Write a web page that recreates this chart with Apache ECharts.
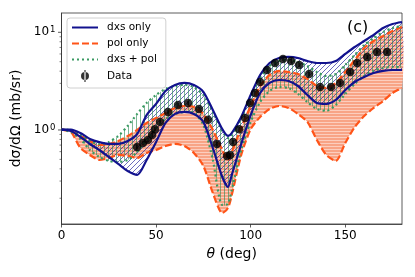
<!DOCTYPE html>
<html><head><meta charset="utf-8">
<script src="https://cdn.jsdelivr.net/npm/echarts@6/dist/echarts.min.js"></script>
<style>html,body{margin:0;padding:0;background:#fff}#c{width:415px;height:277px}</style>
</head><body><div id="c"></div>
<script>
const theta = [0,5,10,15,20,25,30,35,40,45,50,55,60,65,70,75,80,85,88,90,95,100,105,110,115,120,125,130,135,140,145,150,155,160,165,170,175,180];
const dxsHi = [1.01,1.01,0.93,0.81,0.75,0.72,0.72,0.77,0.91,1.42,1.85,2.51,2.89,3.03,2.89,2.46,1.60,1.02,0.87,0.93,1.36,2.28,3.66,4.85,5.46,5.59,5.46,5.08,4.85,4.85,5.08,6.00,7.07,8.15,9.39,11.07,12.16,12.75];
const dxsLo = [1.01,0.977,0.848,0.719,0.624,0.529,0.449,0.380,0.346,0.493,0.754,1.18,1.46,1.53,1.46,1.21,0.654,0.330,0.261,0.346,0.719,1.42,2.39,3.03,3.25,3.17,2.82,2.28,1.89,1.85,2.03,2.57,3.10,3.49,3.83,4.02,4.11,4.11];
const polHi = [1.01,0.977,0.868,0.772,0.702,0.719,0.772,0.868,1.0,1.18,1.33,1.49,1.68,1.76,1.72,1.46,1.0,0.624,0.493,0.596,1.05,1.76,2.82,3.66,4.02,3.92,3.74,3.33,2.82,2.69,3.03,3.92,5.21,6.91,8.15,9.17,10.3,11.33];
const polLo = [1.01,0.954,0.654,0.555,0.493,0.517,0.555,0.542,0.517,0.581,0.624,0.686,0.719,0.686,0.581,0.428,0.227,0.141,0.159,0.216,0.555,1.02,1.36,1.64,1.76,1.68,1.46,1.21,0.790,0.555,0.482,0.736,1.07,1.39,1.68,1.98,2.39,2.69];
const bothHi = [1.01,1.0,0.889,0.772,0.719,0.754,0.868,1.10,1.46,1.89,2.28,2.63,2.82,2.89,2.75,2.28,1.53,0.977,0.828,0.868,1.33,2.18,3.41,4.52,5.08,5.21,4.97,4.52,3.92,3.57,3.74,4.63,5.86,7.41,8.74,10.07,11.07,11.6];
const bothLo = [1.01,0.954,0.809,0.624,0.529,0.482,0.470,0.493,0.596,0.790,1.05,1.30,1.46,1.53,1.49,1.13,0.493,0.171,0.175,0.243,0.624,1.21,1.93,2.51,2.75,2.69,2.34,1.93,1.64,1.57,1.80,2.34,2.96,3.57,4.02,4.31,4.41,4.41];
const dataTheta = [39.9,43.1,45.7,47.9,49.4,52.1,56.3,61.6,66.9,72.7,77.5,82.2,87.5,89.1,90.7,93.9,97.0,99.7,102.3,105.0,108.7,112.9,117.1,121.4,125.6,130.9,136.7,142.5,147.3,152.6,156.3,161.6,166.8,172.1];
const dataVal = [0.670,0.736,0.790,0.889,1.02,1.21,1.53,1.80,1.89,1.64,1.27,0.719,0.542,0.555,0.754,1.02,1.33,1.89,2.39,3.10,4.11,4.85,5.33,5.08,4.63,3.74,2.75,2.75,3.03,3.92,4.85,5.59,6.29,6.29];
const dataErr = [0.04,0.04,0.04,0.05,0.05,0.06,0.08,0.09,0.09,0.08,0.06,0.04,0.03,0.03,0.04,0.05,0.07,0.09,0.12,0.15,0.2,0.24,0.26,0.25,0.23,0.19,0.14,0.14,0.15,0.2,0.24,0.28,0.31,0.31];
const xTicks = [0,50,100,150];
const yMajor = [1,10];
const yMinor = [0.2,0.3,0.4,0.5,0.6,0.7,0.8,0.9,2,3,4,5,6,7,8,9];

const FONT = 'DejaVu Sans';
const C_DXS = '#12128e', C_POL = '#ff5418', C_BOTH = '#3a9a62';

function pattern(w, h, draw) {
  const c = document.createElement('canvas'); c.width = w; c.height = h;
  draw(c.getContext('2d'), w, h);
  return { image: c, repeat: 'repeat' };
}
const polFill = pattern(1, 3, (g) => { g.fillStyle = 'rgb(248,164,134)'; g.fillRect(0,0,1,3); g.fillStyle = 'rgb(252,206,190)'; g.fillRect(0,2,1,1); });
const dxsFill = pattern(5, 5, (g) => { g.strokeStyle = 'rgba(20,20,150,0.7)'; g.lineWidth = 0.9; g.beginPath(); g.moveTo(-1,6); g.lineTo(6,-1); g.moveTo(-1,1); g.lineTo(1,-1); g.moveTo(4,6); g.lineTo(6,4); g.stroke(); });
const bothFill = pattern(4, 1, (g) => { g.fillStyle = 'rgba(46,139,87,0.62)'; g.fillRect(0,0,1,1); });

const S = 0.25;
const pairs = (arr) => theta.map((t, i) => [t, arr[i]]);
function band(id, lo, hi, fill) {
  return { type: 'custom', name: '_' + id, silent: true, data: [[0]],
    renderItem: (p, api) => {
      const pts = [];
      for (let i = 0; i < theta.length; i++) pts.push(api.coord([theta[i], hi[i]]));
      for (let i = theta.length - 1; i >= 0; i--) pts.push(api.coord([theta[i], lo[i]]));
      return { type: 'polygon', shape: { points: pts, smooth: S }, style: { fill: fill, stroke: null } };
    } };
}
function curve(name, arr, color, type) {
  return { type: 'line', name: name, data: pairs(arr), symbol: 'none', showSymbol: false, smooth: S,
    lineStyle: { color: color, width: 2.2, type: type }, itemStyle: { color: color } };
}
const lineItem = (n) => ({ name: n, itemStyle: { opacity: 0 } });

const chart = echarts.init(document.getElementById('c'), null, { renderer: 'canvas' });
chart.setOption({
  animation: false,
  backgroundColor: '#fff',
  textStyle: { fontFamily: FONT },
  grid: { left: 61.5, right: 13, top: 13, bottom: 53, show: true, borderColor: '#333', borderWidth: 0.8, outerBoundsMode: 'none' },
  legend: {
    orient: 'vertical', left: 67, top: 18,
    data: [lineItem('dxs only'), lineItem('pol only'), lineItem('dxs + pol'),
           { name: 'Data', icon: 'path://M3.4,0h1.2v12h-1.2z M0,6a4,4 0 1,0 8,0a4,4 0 1,0 -8,0z' }],
    backgroundColor: 'rgba(255,255,255,0.85)', borderColor: '#d0d0d0', borderWidth: 1, borderRadius: 3,
    padding: [4, 9, 6, 4], itemWidth: 26, itemHeight: 12, itemGap: 5,
    textStyle: { fontSize: 10.5, color: '#000', fontFamily: FONT, padding: [0, 0, 0, 4] }
  },
  xAxis: {
    type: 'value', min: 0, max: 180, interval: 50,
    axisLine: { show: true, lineStyle: { color: '#333', width: 0.8 } },
    axisTick: { show: true, length: 3.5, customValues: xTicks, lineStyle: { color: '#333', width: 0.8 } },
    axisLabel: { customValues: xTicks, fontSize: 12, color: '#000', margin: 6, fontFamily: FONT },
    splitLine: { show: false },
    name: '{i|θ} (deg)', nameLocation: 'middle', nameGap: 22,
    nameTextStyle: { fontSize: 14, color: '#000', fontFamily: FONT, rich: { i: { fontStyle: 'italic', fontSize: 14, fontFamily: FONT } } }
  },
  yAxis: {
    type: 'log', logBase: 10, min: 0.109, max: 15.76,
    axisLine: { show: true, lineStyle: { color: '#333', width: 0.8 } },
    axisTick: { show: false },
    axisLabel: {
      showMinLabel: false, showMaxLabel: false, fontSize: 12, color: '#000', margin: 6, fontFamily: FONT,
      formatter: (v) => '10{s|' + Math.round(Math.log10(v)) + '}',
      rich: { s: { fontSize: 8.5, verticalAlign: 'top', padding: [0, 0, 5, 1], fontFamily: FONT, color: '#000' } }
    },
    splitLine: { show: false },
    name: 'dσ/dΩ (mb/sr)', nameLocation: 'middle', nameGap: 30,
    nameTextStyle: { fontSize: 14, color: '#000', fontFamily: FONT }
  },
  graphic: [{ type: 'text', left: 347, top: 20, style: { text: '(c)', fontSize: 16, fill: '#000', fontFamily: FONT } }],
  series: [
    band('pol', polLo, polHi, polFill),
    band('dxs', dxsLo, dxsHi, dxsFill),
    band('both', bothLo, bothHi, bothFill),
    curve('pol only', polHi, C_POL, [7, 3]),
    curve('pol only', polLo, C_POL, [7, 3]),
    curve('dxs + pol', bothHi, C_BOTH, [2, 3]),
    curve('dxs + pol', bothLo, C_BOTH, [2, 3]),
    curve('dxs only', dxsHi, C_DXS, 'solid'),
    curve('dxs only', dxsLo, C_DXS, 'solid'),
    { type: 'custom', name: '_err', silent: true, data: dataTheta.map((t, i) => [t, dataVal[i], dataErr[i]]),
      renderItem: (p, api) => { const x = api.value(0), y = api.value(1), e = api.value(2);
        const a = api.coord([x, y - e]), b = api.coord([x, y + e]);
        return { type: 'line', shape: { x1: a[0], y1: a[1], x2: b[0], y2: b[1] }, style: { stroke: '#000', lineWidth: 1.2 } }; } },
    { type: 'scatter', name: 'Data', data: dataTheta.map((t, i) => [t, dataVal[i]]), symbol: 'circle', symbolSize: 8.5, itemStyle: { color: '#000' }, z: 5 },
    { type: 'custom', name: '_ymaj', silent: true, clip: false, data: yMajor.map(v => [0, v]),
      renderItem: (p, api) => { const c = api.coord([api.value(0), api.value(1)]);
        return { type: 'line', shape: { x1: c[0] - 3.5, y1: c[1], x2: c[0], y2: c[1] }, style: { stroke: '#333', lineWidth: 0.8 } }; } },
    { type: 'custom', name: '_ymin', silent: true, clip: false, data: yMinor.map(v => [0, v]),
      renderItem: (p, api) => { const c = api.coord([api.value(0), api.value(1)]);
        return { type: 'line', shape: { x1: c[0] - 2, y1: c[1], x2: c[0], y2: c[1] }, style: { stroke: '#333', lineWidth: 0.6 } }; } }
  ]
});
</script></body></html>
